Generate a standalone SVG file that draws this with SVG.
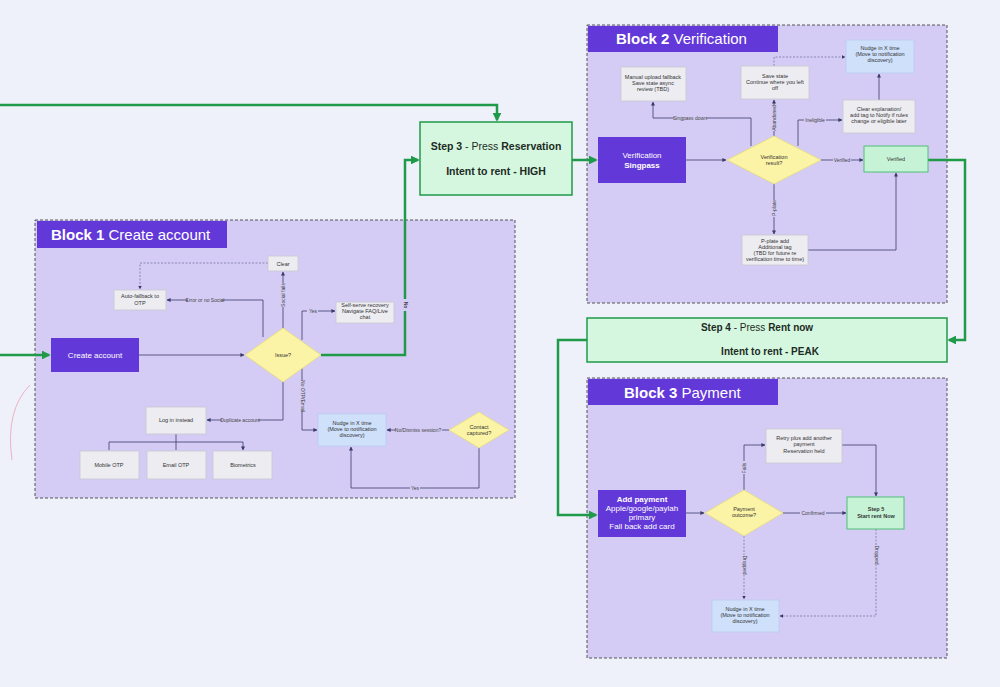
<svg xmlns="http://www.w3.org/2000/svg" width="1000" height="687" viewBox="0 0 1000 687">
<defs>
<marker id="a" viewBox="0 0 10 10" refX="9" refY="5" markerWidth="5" markerHeight="5" orient="auto"><path d="M0,0L10,5L0,10z" fill="#3a3a6a"/></marker>
<marker id="g" viewBox="0 0 10 10" refX="8" refY="5" markerWidth="3.5" markerHeight="3.5" orient="auto"><path d="M0,0L10,5L0,10z" fill="#1f9a48"/></marker>
<style>
text{font-family:"Liberation Sans",Arial,sans-serif;text-anchor:middle}
.blk{fill:#d4ccf5;stroke:#555;stroke-dasharray:3 2;stroke-width:1}
.ttl{fill:#6338d9}
.tt{fill:#fff;font-size:15px;text-anchor:start}
.n{fill:#ececf1;stroke:#c8c8d0;stroke-width:.8}
.p{fill:#6338d9}
.b{fill:#cfe0fb;stroke:#b8cdee;stroke-width:.8}
.v{fill:#c6f3d6;stroke:#4fbf78;stroke-width:1}
.d{fill:#fbf3a6;stroke:#e6db7a;stroke-width:.8}
.s{fill:#d6f7df;stroke:#1f9a48;stroke-width:1.5}
.t{font-size:5.5px;fill:#333}
.w{font-size:8px;fill:#fff}
.l{font-size:5px;fill:#444}
.bg{fill:#d4ccf5}
.c{fill:none;stroke:#3a3a6a;stroke-width:.8;marker-end:url(#a)}
.cd{fill:none;stroke:#6a6a9a;stroke-width:.7;stroke-dasharray:2 1.5;marker-end:url(#a)}
.gr{fill:none;stroke:#1f9a48;stroke-width:2.5;marker-end:url(#g)}
</style>
</defs>
<rect width="1000" height="687" fill="#eef0fa"/>
<rect x="35" y="220" width="480" height="278" class="blk"/>
<rect x="37" y="221" width="190" height="27" class="ttl"/>
<text x="51" y="240" class="tt"><tspan font-weight="bold">Block 1</tspan> Create account</text>
<rect x="587" y="25" width="360" height="278" class="blk"/>
<rect x="588" y="26" width="190" height="26" class="ttl"/>
<text x="616" y="44" class="tt"><tspan font-weight="bold">Block 2</tspan> Verification</text>
<rect x="587" y="378" width="360" height="280" class="blk"/>
<rect x="588" y="379" width="190" height="26" class="ttl"/>
<text x="624" y="398" class="tt"><tspan font-weight="bold">Block 3</tspan> Payment</text>
<path d="M30,385 Q5,410 12,460" fill="none" stroke="#e89aa8" stroke-width=".7"/>

<g id="connectors">
<path class="gr" d="M0,105H497V120"/>
<path class="gr" d="M0,355H49"/>
<path class="c" d="M139,355H244"/>
<path class="gr" d="M321,355H405V160H418"/>
<path class="c" d="M263,337V300H167"/>
<path class="c" d="M283,328V272"/>
<path class="cd" d="M268,263H140V289"/>
<path class="c" d="M302,340V311H335"/>
<path class="c" d="M283,382V420H207"/>
<path class="c" d="M176,434V442H109V450M176,442V450M176,442H243V450"/>
<path class="c" d="M302,368V430H317"/>
<path class="c" d="M449,430H387"/>
<path class="c" d="M479,448V488H351V447"/>
<path class="gr" d="M572,160H596"/>
<path class="c" d="M686,160H726"/>
<path class="c" d="M751,146V118H653V102"/>
<path class="c" d="M774,136V100"/>
<path class="cd" d="M774,66V57H845"/>
<path class="c" d="M798,146V120H842"/>
<path class="c" d="M879,100V74"/>
<path class="c" d="M821,160H863"/>
<path class="c" d="M774,184V234"/>
<path class="c" d="M808,250H896V173"/>
<path class="gr" d="M928,160H965V340H949"/>
<path class="gr" d="M587,340H558V515H596"/>
<path class="c" d="M686,513H704"/>
<path class="c" d="M744,490V445H765"/>
<path class="c" d="M842,445H876V496"/>
<path class="c" d="M783,513H846"/>
<path class="cd" d="M744,536V599"/>
<path class="cd" d="M876,529V616H780"/>
<g class="l">
<rect x="188" y="297" width="34" height="6" class="bg"/><text x="205" y="302">Error or no Social</text>
<rect x="280" y="283" width="6" height="24" class="bg"/><text transform="translate(285,295) rotate(-90)">Social fails</text>
<rect x="307" y="308" width="11" height="6" class="bg"/><text x="313" y="313">Yes</text>
<rect x="402" y="299" width="7" height="12" class="bg"/><text transform="translate(403.5,305) rotate(90)" font-weight="bold">No</text>
<rect x="222" y="417" width="36" height="6" class="bg"/><text x="240" y="422">Duplicate account</text>
<rect x="299" y="381" width="6" height="30" class="bg"/><text transform="translate(300.5,396) rotate(90)">No OTP/Email</text>
<rect x="396" y="427" width="46" height="6" class="bg"/><text x="418" y="432">No/Dismiss session?</text>
<rect x="410" y="485" width="10" height="6" class="bg"/><text x="415" y="490">Yes</text>
<rect x="674" y="115" width="32" height="6" class="bg"/><text x="690" y="120">Singpass down</text>
<rect x="771" y="105" width="6" height="26" class="bg"/><text transform="translate(776,118) rotate(-90)">Abandoned</text>
<rect x="804" y="117" width="22" height="6" class="bg"/><text x="815" y="122">Ineligible</text>
<rect x="833" y="157" width="18" height="6" class="bg"/><text x="842" y="162">Verified</text>
<rect x="771" y="200" width="6" height="17" class="bg"/><text transform="translate(776,208) rotate(-90)">P-plate</text>
<rect x="741" y="461" width="6" height="13" class="bg"/><text transform="translate(746,468) rotate(-90)">Fails</text>
<rect x="800" y="510" width="26" height="6" class="bg"/><text x="813" y="515">Confirmed</text>
<rect x="741" y="555" width="6" height="20" class="bg"/><text transform="translate(742.5,565) rotate(90)">Dropped</text>
<rect x="873" y="545" width="6" height="20" class="bg"/><text transform="translate(874.5,555) rotate(90)">Dropped</text>
</g>
</g>

<g id="step3"><rect x="420" y="122" width="152" height="73" class="s"/>
<text x="496" y="150" font-size="10.5" fill="#1c2b24"><tspan font-weight="bold">Step 3</tspan> - Press <tspan font-weight="bold">Reservation</tspan></text>
<text x="496" y="175" font-size="10.5" font-weight="bold" fill="#1c2b24">Intent to rent - HIGH</text></g>
<g id="step4"><rect x="587" y="318" width="360" height="44" class="s"/>
<text x="757" y="331" font-size="10" fill="#1c2b24"><tspan font-weight="bold">Step 4</tspan> - Press <tspan font-weight="bold">Rent now</tspan></text>
<text x="770" y="355" font-size="10" font-weight="bold" fill="#1c2b24">Intent to rent - PEAK</text></g>

<g id="create"><rect x="51" y="338" width="88" height="34" class="p"/><text x="95" y="358" class="w">Create account</text></g>
<g id="issue"><path d="M283,328L321,355L283,382L245,355z" class="d"/><text x="283" y="357" class="t">Issue?</text></g>
<g id="clear"><rect x="268" y="256" width="30" height="15" class="n"/><text x="283" y="266" class="t">Clear</text></g>
<g id="autofb"><rect x="114" y="290" width="52" height="20" class="n"/><text x="140" y="298" class="t">Auto-fallback to</text><text x="140" y="305" class="t">OTP</text></g>
<g id="selfserve"><rect x="336" y="302" width="58" height="21" class="n"/><text x="365" y="307" class="t">Self-serve recovery</text><text x="365" y="313" class="t">Navigate FAQ/Live</text><text x="365" y="319" class="t">chat</text></g>
<g id="login"><rect x="146" y="407" width="60" height="27" class="n"/><text x="176" y="422" class="t">Log in instead</text></g>
<g id="mobile"><rect x="80" y="451" width="59" height="28" class="n"/><text x="109" y="467" class="t">Mobile OTP</text></g>
<g id="email"><rect x="147" y="451" width="59" height="28" class="n"/><text x="176" y="467" class="t">Email OTP</text></g>
<g id="bio"><rect x="213" y="451" width="59" height="28" class="n"/><text x="243" y="467" class="t">Biometrics</text></g>
<g id="nudge1"><rect x="318" y="414" width="68" height="32" class="b"/><text x="352" y="425" class="t">Nudge in X time</text><text x="352" y="431" class="t">(Move to notification</text><text x="352" y="437" class="t">discovery)</text></g>
<g id="contact"><path d="M479,412L509,430L479,448L449,430z" class="d"/><text x="479" y="429" class="t">Contact</text><text x="479" y="435" class="t">captured?</text></g>

<g id="singpass"><rect x="598" y="137" width="88" height="46" class="p"/><text x="642" y="158" class="w">Verification</text><text x="642" y="168" class="w" font-weight="bold">Singpass</text></g>
<g id="vresult"><path d="M774,136L821,160L774,184L727,160z" class="d"/><text x="774" y="159" class="t">Verification</text><text x="774" y="165" class="t">result?</text></g>
<g id="manual"><rect x="621" y="67" width="65" height="34" class="n"/><text x="653" y="79" class="t">Manual upload fallback</text><text x="653" y="85" class="t">Save state async</text><text x="653" y="91" class="t">review (TBD)</text></g>
<g id="save"><rect x="741" y="66" width="68" height="33" class="n"/><text x="775" y="78" class="t">Save state</text><text x="775" y="84" class="t">Continue where you left</text><text x="775" y="90" class="t">off</text></g>
<g id="nudge2"><rect x="846" y="40" width="68" height="33" class="b"/><text x="880" y="50" class="t">Nudge in X time</text><text x="880" y="56" class="t">(Move to notification</text><text x="880" y="62" class="t">discovery)</text></g>
<g id="clearexp"><rect x="843" y="100" width="72" height="33" class="n"/><text x="879" y="111" class="t">Clear explanation/</text><text x="879" y="117" class="t">add tag to Notify if rules</text><text x="879" y="123" class="t">change or eligible later</text></g>
<g id="verified"><rect x="864" y="146" width="64" height="26" class="v"/><text x="896" y="161" class="t">Verified</text></g>
<g id="pplate"><rect x="742" y="235" width="66" height="30" class="n"/><text x="775" y="243" class="t">P-plate add</text><text x="775" y="249" class="t">Additional tag</text><text x="775" y="255" class="t">(TBD for future re</text><text x="775" y="261" class="t">verification time to time)</text></g>

<g id="addpay"><rect x="598" y="490" width="88" height="47" class="p"/><text x="642" y="502" class="w" font-weight="bold">Add payment</text><text x="642" y="511" class="w">Apple/google/paylah</text><text x="642" y="520" class="w">primary</text><text x="642" y="529" class="w">Fall back add card</text></g>
<g id="payout"><path d="M744,490L783,513L744,536L705,513z" class="d"/><text x="744" y="511" class="t">Payment</text><text x="744" y="517" class="t">outcome?</text></g>
<g id="retry"><rect x="766" y="429" width="76" height="34" class="n"/><text x="804" y="440" class="t">Retry plus add another</text><text x="804" y="446" class="t">payment</text><text x="804" y="453" class="t">Reservation held</text></g>
<g id="step5"><rect x="847" y="497" width="57" height="32" class="v"/><text x="876" y="511" class="t" font-weight="bold">Step 5</text><text x="876" y="518" class="t" font-weight="bold">Start rent Now</text></g>
<g id="nudge3"><rect x="712" y="600" width="67" height="32" class="b"/><text x="745" y="611" class="t">Nudge in X time</text><text x="745" y="617" class="t">(Move to notification</text><text x="745" y="623" class="t">discovery)</text></g>
</svg>
